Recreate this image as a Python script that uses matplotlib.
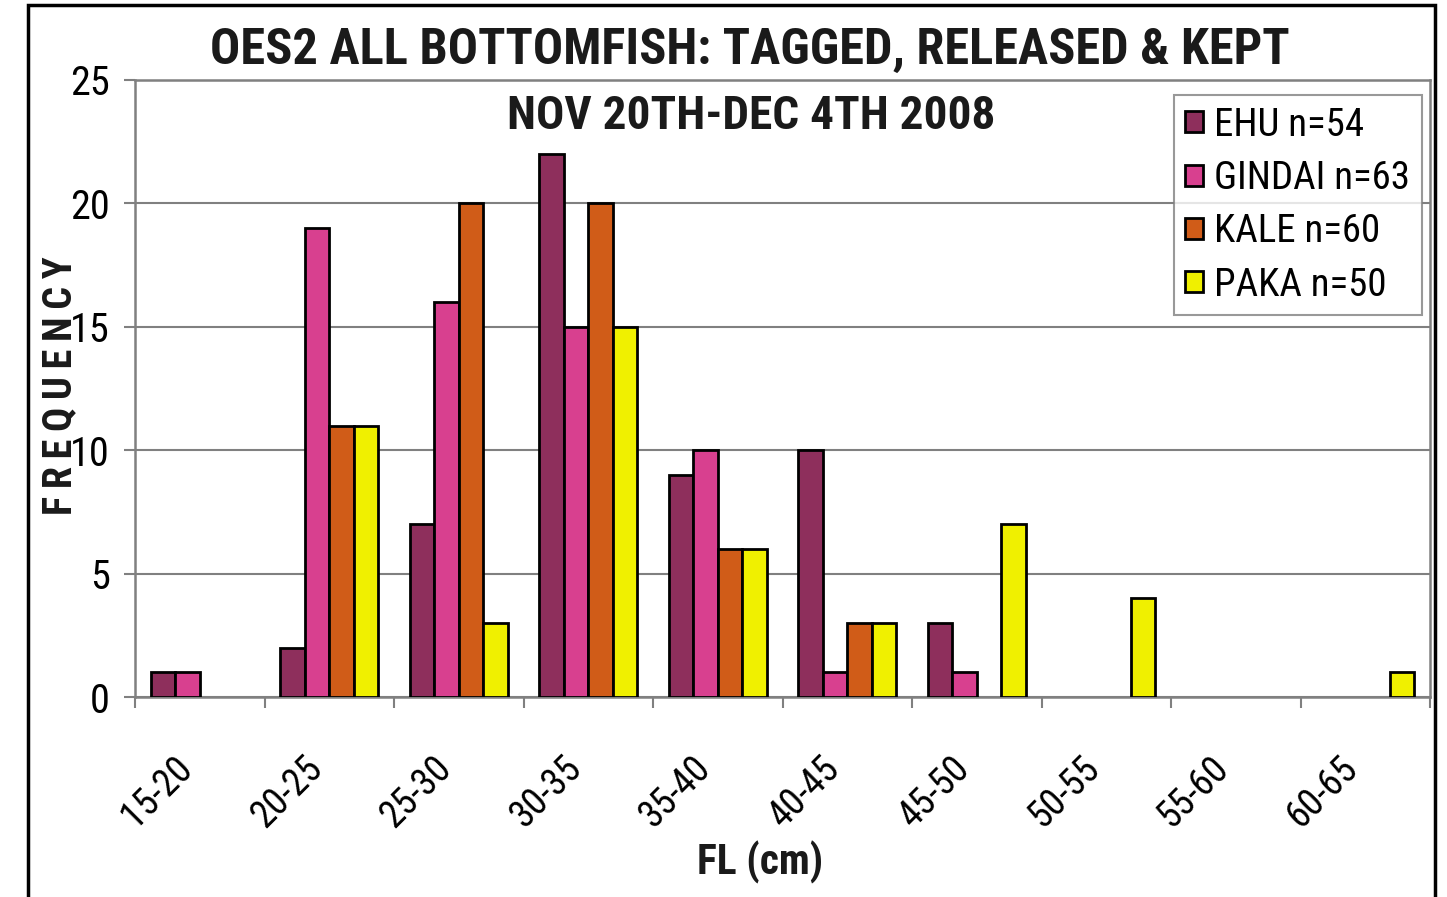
import matplotlib.pyplot as plt
from matplotlib import font_manager
from matplotlib.patches import Rectangle
import numpy as np

categories = ['15-20', '20-25', '25-30', '30-35', '35-40',
              '40-45', '45-50', '50-55', '55-60', '60-65']
series_names = ['EHU n=54', 'GINDAI n=63', 'KALE n=60', 'PAKA n=50']
ehu = [1, 2, 7, 22, 9, 10, 3, 0, 0, 0]
gindai = [1, 19, 16, 15, 10, 1, 1, 0, 0, 0]
kale = [0, 11, 20, 20, 6, 3, 0, 0, 0, 0]
paka = [0, 11, 3, 15, 6, 3, 7, 4, 0, 1]
colors = ['#8E2F5C', '#D8408F', '#D05C18', '#F0F000']

# the original uses Arial Narrow; take a narrow face if there is one
installed = {f.name for f in font_manager.fontManager.ttflist}
narrow = [n for n in ['Roboto Condensed', 'Liberation Sans Narrow', 'Arial Narrow']
          if n in installed]
if narrow:
    plt.rcParams['font.family'] = [narrow[0], 'DejaVu Sans']
    k = 1.0
else:
    plt.rcParams['font.family'] = ['Liberation Sans', 'DejaVu Sans']
    k = 0.88

fig = plt.figure(figsize=(14.47, 8.97), dpi=100)
ax = fig.add_axes([135 / 1447, 1 - 697 / 897, (1430 - 135) / 1447, (697 - 80) / 897])

x = np.arange(len(categories))
w = 0.19
for i, (vals, name, c) in enumerate(zip([ehu, gindai, kale, paka], series_names, colors)):
    # skip zero bars so no black line shows on the axis
    xs = [xi + (i - 1.5) * w for xi, v in zip(x, vals) if v > 0]
    vs = [v for v in vals if v > 0]
    ax.bar(xs, vs, width=w, color=c, edgecolor='black', linewidth=2, label=name, zorder=3)

ax.set_xlim(-0.5, len(categories) - 0.5)
ax.set_ylim(0, 25)
ax.set_yticks([0, 5, 10, 15, 20, 25])
ax.yaxis.grid(True, color='#808080', linewidth=1.5, zorder=0)
for s in ax.spines.values():
    s.set_color('#808080')
    s.set_linewidth(1.8)

# labels sit a little left of the bar group, like Excel's rotated labels
ax.set_xticks(x - 0.2)
ax.set_xticklabels(categories, rotation=45, ha='right', va='top', rotation_mode='anchor')
ax.set_xticks(np.arange(len(categories) + 1) - 0.5, minor=True)
ax.tick_params(axis='x', which='major', length=0, pad=38, labelsize=27 * k)
ax.tick_params(axis='x', which='minor', length=8, width=1.5, color='#808080')
ax.tick_params(axis='y', length=8, width=1.5, color='#808080', pad=10, labelsize=29 * k)

fig.text(750 / 1447, 1 - 50 / 897, 'OES2 ALL BOTTOMFISH: TAGGED, RELEASED & KEPT',
         ha='center', va='center', fontsize=36.3 * k, fontweight='bold', color='#1a1a1a')
fig.text(751 / 1447, 1 - 116 / 897, 'NOV 20TH-DEC 4TH 2008',
         ha='center', va='center', fontsize=34 * k, fontweight='bold', color='#1a1a1a')
fig.text(60 / 1447, 1 - 386 / 897, '\u2009'.join('FREQUENCY'), rotation=90,
         ha='center', va='center', fontsize=29, fontweight='bold', color='#1a1a1a')
fig.text(760 / 1447, 1 - 862 / 897, 'FL (cm)',
         ha='center', va='center', fontsize=30 * k, fontweight='bold', color='#1a1a1a')

leg = ax.legend(loc='upper right', bbox_to_anchor=(1422 / 1447, 1 - 95 / 897),
                bbox_transform=fig.transFigure, fontsize=28 * k, frameon=True,
                fancybox=False, edgecolor='#808080', handlelength=0.45, handleheight=0.45,
                handletextpad=0.3, labelspacing=0.42, borderpad=0.3, borderaxespad=0)
leg.get_frame().set_linewidth(1.5)

# outer chart border
fig.patches.append(Rectangle((28 / 1447, -0.02), (1435 - 28) / 1447, 1.02 - 5 / 897,
                             transform=fig.transFigure, fill=False,
                             edgecolor='black', linewidth=2.5))

fig.savefig('out.png', dpi=100)
